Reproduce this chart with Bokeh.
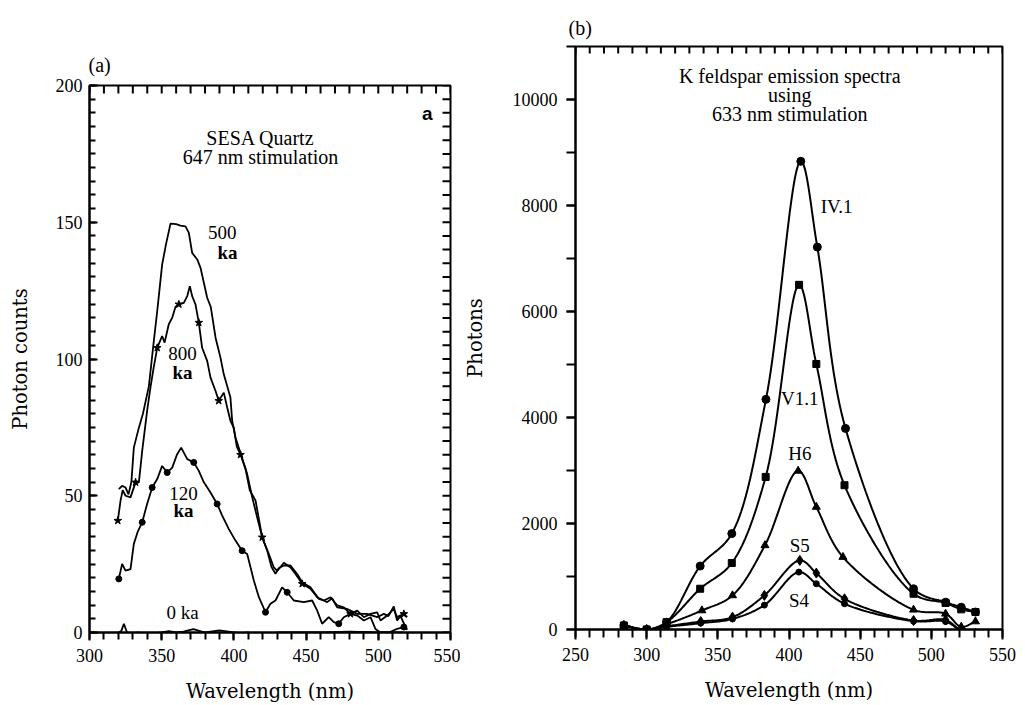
import numpy as np
from bokeh.plotting import figure
from bokeh.layouts import row, column
from bokeh.models import SingleIntervalTicker, ColumnDataSource
from bokeh.core.properties import value
from bokeh.embed import file_html
from bokeh.resources import INLINE

# ---------------- Panel (a) data : SESA Quartz, 647 nm stimulation ----------------
a500_x = [320.3, 322.6, 325, 327, 329, 330.7, 334.2, 337, 341.1, 344, 347, 350.3, 353, 356.1, 360, 363,
          366.5, 368.8, 371.1, 374.6, 376.9, 381.5, 384, 387.3, 390.7, 393, 397.6, 398.8, 401.1, 404.6,
          409.2, 412.7, 416.1, 419.6, 423.1, 426, 428.8, 431, 434.6, 439.2, 443.8, 447.3, 453, 458.8,
          462.3, 464.6, 468, 471.5, 478.5, 485.4, 492.3, 499.2, 503.8, 507, 510.7, 513, 515.4, 518, 520]
a500_y = [52.4, 53.6, 53, 50.5, 55, 67.6, 74.9, 80, 90, 104, 118, 134.5, 142, 149.5, 149.3, 148.8,
          148.5, 146.1, 138.8, 136.4, 133.3, 122.4, 119, 107.8, 100.5, 94.4, 85.9, 77.4, 71.3, 65.5,
          57.9, 49.4, 42.1, 34.8, 29.9, 24, 21.5, 23.5, 24.5, 24.5, 21.4, 18.4, 16.5, 12.3,
          11.7, 11.1, 12.5, 9.2, 8.6, 6.8, 6.8, 5.6, 6.8, 6, 9.5, 4.4, 6, 3, 1]

a800_x = [319.6, 321.5, 323, 325, 328.4, 331.9, 334.2, 336.5, 339.9, 342.2, 344.5, 346.9, 350.3, 352,
          354.9, 357.3, 359.5, 361.9, 365.3, 367.7, 369.5, 371.1, 373.4, 375.7, 378, 381.5, 383.8,
          387.3, 389.5, 393, 395.4, 397.6, 399.9, 402, 404.6, 408, 411, 415, 419.6, 424.2, 427.6, 430,
          434.6, 439.2, 442.7, 447.3, 453, 457.7, 462.3, 466.9, 471.5, 476.1, 480.7, 485.4, 490, 494.6,
          499.2, 501.5, 506.2, 510.7, 513, 517.7, 520]
a800_y = [40.9, 48.2, 52, 50, 49.4, 54.9, 54.9, 66.4, 81, 89.5, 97, 104.1, 108.4, 106,
          112.7, 115.1, 119, 120, 120.5, 123, 126.6, 123, 120, 113.3, 104.1, 99.3, 93.2,
          88.3, 84.7, 87.7, 82.2, 77.4, 74.9, 68, 65, 60, 52, 48.2, 34.8, 28.7, 23.8, 22.5,
          25.5, 23.8, 21.4, 17.8, 16, 12.9, 11.7, 12.9, 9.9, 9.2, 6.8, 8, 5.6, 6.8,
          7.4, 4.4, 6.2, 8.6, 5.6, 6.8, 5.6]
a800_mx = [319.6, 331.9, 346.9, 361.9, 375.7, 389.5, 404.6, 419.6, 447.3, 480.7, 517.7]
a800_my = [40.9, 54.9, 104.1, 120, 113.3, 84.7, 65, 34.8, 17.8, 6.8, 6.8]

a120_x = [320.3, 322.6, 324.9, 328.4, 330.7, 333.5, 336.5, 339.9, 343.4, 346.9, 350.3, 353.8, 357.3,
          360.7, 363.5, 367.7, 372.2, 375.7, 379.2, 383.8, 388.4, 391.9, 396.5, 401.1, 405.7, 409.2,
          413.8, 417.3, 421.9, 425.3, 428.8, 433.4, 436.9, 441.5, 448.4, 454.2, 457.7, 461.1, 465.7,
          469.2, 472.6, 476.1, 480.7, 485.4, 490, 494.6, 498, 501.5, 507.3, 513, 517.7]
a120_y = [19.6, 25.1, 22.6, 23.2, 32.4, 37, 40.3, 47, 53, 56.1, 60.9, 58.5, 60.3,
          65.2, 67.6, 63.4, 62.2, 59.1, 54.9, 51.2, 47, 42.7, 37.8, 33.6, 29.9, 28.7,
          19, 12.9, 7.4, 10.5, 11.7, 16.5, 14.7, 11.7, 11.1, 11.7, 8, 3.2, 5.6,
          3.8, 3.2, 5.6, 6.8, 6.2, 4.4, 5.6, 1.3, 0, 0, 1.3, 2]
a120_mx = [320.3, 336.5, 343.4, 353.8, 372.2, 388.4, 405.7, 421.9, 436.9, 472.6, 517.7]
a120_my = [19.6, 40.3, 53, 58.5, 62.2, 47, 29.9, 7.4, 14.7, 3.2, 2]

a0_x = [320, 322, 323.8, 326, 329.5, 333, 340, 350, 355, 360, 365, 372, 380, 390, 400, 405, 410,
        415, 421.9, 426, 430, 440, 460, 480, 500, 517]
a0_y = [0, 0.5, 3.2, 0, -2.3, 0, -0.5, 0, 0.5, 0, 0.3, 1.2, 0, 0.8, 0, -0.3, 0,
        -1.5, -3.5, -2, 0, 0, 0, 0.3, 0, 0]

a_labels = ["500", "ka", "800", "ka", "120", "ka", "0 ka"]
a_label_x = [392, 395.6, 364.4, 364.4, 365.1, 365.1, 364.4]
a_label_y = [146.4, 139, 102, 95, 51, 44.5, 7.3]
a_label_bold = [False, True, False, True, False, True, False]
a_title = ["SESA Quartz", "647 nm stimulation"]
a_title_x = [418.4, 418.4]
a_title_y = [180.7, 174.0]

# ---------------- Panel (b) data : K feldspar emission spectra ----------------
b_iv1_x = [284, 300, 314, 337.6, 359.8, 383.8, 408.3, 419.9, 439.7, 487.5, 510.1, 521, 531]
b_iv1_y = [76, 0, 138, 1197, 1809, 4342, 8834, 7215, 3794, 769, 516, 420, 330]
b_v11_x = [284, 300, 314, 337.6, 359.8, 383.6, 407.1, 419.2, 439, 487.5, 510, 521, 531]
b_v11_y = [76, 0, 138, 769, 1254, 2879, 6503, 5009, 2722, 674, 500, 380, 330]
b_h6_x = [284, 300, 314, 338.8, 360.3, 383.1, 406.4, 419.2, 437.9, 487.5, 510, 521, 531]
b_h6_y = [76, 0, 100, 359, 643, 1588, 2993, 2312, 1367, 372, 296, 50, 151]
b_s5_x = [284, 300, 314, 338, 360.3, 382.7, 407.6, 419.2, 439, 487.5, 510, 521, 531]
b_s5_y = [76, 0, 60, 150, 233, 643, 1304, 1064, 580, 170, 180, -20, -70]
b_s4_x = [284, 300, 314, 338, 360.3, 382.7, 406.9, 419.2, 439, 487.5, 510, 521, 531]
b_s4_y = [76, 0, 50, 120, 200, 460, 1083, 864, 486, 157, 150, -20, -80]

b_labels = ["IV.1", "V1.1", "H6", "S5", "S4"]
b_label_x = [433.5, 407.6, 407.6, 407.6, 407.0]
b_label_y = [7977, 4362, 3323, 1588, 548]
b_title = ["K feldspar emission spectra", "using", "633 nm stimulation"]
b_title_x = [400.5, 400.5, 400.5]
b_title_y = [10450, 10090, 9730]

SERIF = "Liberation Serif"
LABEL_FONT = "DejaVu Serif"
TICKC = "black"


def catmull_rom(xs, ys, sx, sy, n=24):
    P = np.column_stack([np.asarray(xs, float) * sx, np.asarray(ys, float) * sy])
    P = np.vstack([2 * P[0] - P[1], P, 2 * P[-1] - P[-2]])
    out = []
    for i in range(1, len(P) - 2):
        p0, p1, p2, p3 = P[i - 1], P[i], P[i + 1], P[i + 2]
        t0 = 0.0
        t1 = t0 + max(np.linalg.norm(p1 - p0) ** 0.5, 1e-6)
        t2 = t1 + max(np.linalg.norm(p2 - p1) ** 0.5, 1e-6)
        t3 = t2 + max(np.linalg.norm(p3 - p2) ** 0.5, 1e-6)
        t = np.linspace(t1, t2, n)[:, None]
        A1 = (t1 - t) / (t1 - t0) * p0 + (t - t0) / (t1 - t0) * p1
        A2 = (t2 - t) / (t2 - t1) * p1 + (t - t1) / (t2 - t1) * p2
        A3 = (t3 - t) / (t3 - t2) * p2 + (t - t2) / (t3 - t2) * p3
        B1 = (t2 - t) / (t2 - t0) * A1 + (t - t0) / (t2 - t0) * A2
        B2 = (t3 - t) / (t3 - t1) * A2 + (t - t1) / (t3 - t1) * A3
        C = (t2 - t) / (t2 - t1) * B1 + (t - t1) / (t2 - t1) * B2
        out.append(C if i == 1 else C[1:])
    C = np.vstack(out)
    return C[:, 0] / sx, C[:, 1] / sy


def style_axis(ax, tin, tout, mtin, mtout, standoff=6):
    ax.axis_line_width = 2
    ax.axis_line_color = "black"
    ax.major_tick_in = tin
    ax.major_tick_out = tout
    ax.minor_tick_in = mtin
    ax.minor_tick_out = mtout
    ax.major_tick_line_width = 2
    ax.minor_tick_line_width = 2
    ax.major_tick_line_color = TICKC
    ax.minor_tick_line_color = TICKC
    ax.major_label_text_font = SERIF
    ax.major_label_text_font_size = "18px"
    ax.major_label_text_color = "black"
    ax.major_label_standoff = standoff
    ax.axis_label_text_font = LABEL_FONT
    ax.axis_label_text_font_style = "normal"
    ax.axis_label_text_font_size = "19.5px"
    ax.axis_label_text_color = "black"


def style_title(t, text, offset, standoff):
    t.text = text
    t.align = "left"
    t.offset = offset
    t.standoff = standoff
    t.text_font = SERIF
    t.text_font_size = "20px"
    t.text_font_style = "normal"
    t.text_color = "black"


# ---------------- Figure (a) ----------------
XA, YA = (300, 550), (0, 200)
pa = figure(width=460, height=705, x_range=XA, y_range=YA,
            output_backend="svg", toolbar_location=None,
            min_border_left=89, min_border_right=10, min_border_top=85, min_border_bottom=73)
pa.grid.visible = False
pa.outline_line_color = "black"
pa.outline_line_width = 2
style_title(pa.title, "(a)", -1, 20)

pa.xaxis[0].ticker = SingleIntervalTicker(interval=50, num_minor_ticks=5)
pa.yaxis[0].ticker = SingleIntervalTicker(interval=50, num_minor_ticks=10)
style_axis(pa.xaxis[0], 0, 8, 0, 7, standoff=8)
style_axis(pa.yaxis[0], 8, 0, 6, 0, standoff=7)
pa.xaxis[0].axis_label = "Wavelength (nm)"
pa.xaxis[0].axis_label_standoff = 15
pa.yaxis[0].axis_label = "Photon counts"
pa.yaxis[0].axis_label_standoff = 21

# inward ticks on the top and right edges of frame (a)
ta_x = np.arange(XA[0], XA[1] + 1, 10).astype(float)
pa.segment(x0=ta_x, y0=np.full(len(ta_x), YA[1], dtype=float), x1=ta_x,
           y1=np.full(len(ta_x), YA[1] - 8 / 2.74), line_color=TICKC, line_width=2)
ra_y = np.arange(YA[0], YA[1] + 1, 5).astype(float)
pa.segment(x0=np.full(len(ra_y), XA[1], dtype=float), y0=ra_y,
           x1=np.full(len(ra_y), XA[1] - 8 / 1.444), y1=ra_y, line_color=TICKC, line_width=2)

pa.line(a500_x, a500_y, line_color="black", line_width=1.8)
pa.line(a800_x, a800_y, line_color="black", line_width=1.8)
pa.scatter(a800_mx, a800_my, marker="star", size=8, color="black")
pa.line(a120_x, a120_y, line_color="black", line_width=1.8)
pa.scatter(a120_mx, a120_my, marker="circle", size=6, color="black")
pa.line(a0_x, a0_y, line_color="black", line_width=1.8)

idx_n = [i for i in range(len(a_labels)) if not a_label_bold[i]]
idx_b = [i for i in range(len(a_labels)) if a_label_bold[i]]
src_al = ColumnDataSource(dict(x=[a_label_x[i] for i in idx_n], y=[a_label_y[i] for i in idx_n],
                               t=[a_labels[i] for i in idx_n]))
src_alb = ColumnDataSource(dict(x=[a_label_x[i] for i in idx_b], y=[a_label_y[i] for i in idx_b],
                                t=[a_labels[i] for i in idx_b]))
pa.text(x="x", y="y", text="t", source=src_al, text_font=value(SERIF), text_font_size="19px",
        text_align="center", text_baseline="middle", text_color="black")
pa.text(x="x", y="y", text="t", source=src_alb, text_font=value(SERIF), text_font_size="19px",
        text_font_style="bold", text_align="center", text_baseline="middle", text_color="black")
pa.text(x=a_title_x, y=a_title_y, text=a_title, text_font=value(SERIF), text_font_size="20px",
        text_align="center", text_baseline="middle", text_color="black")
pa.text(x=[534], y=[189.8], text=["a"], text_font=value("Liberation Sans"), text_font_size="19px",
        text_font_style="bold", text_align="center", text_baseline="middle", text_color="black")

# ---------------- Figure (b) ----------------
XB, YB = (250, 550), (0, 11000)
pb = figure(width=565, height=705, x_range=XB, y_range=YB,
            output_backend="svg", toolbar_location=None,
            min_border_left=113, min_border_right=23, min_border_top=46, min_border_bottom=76)
pb.grid.visible = False
pb.outline_line_color = "black"
pb.outline_line_width = 2
style_title(pb.title, "(b)", -7, 16)

pb.xaxis[0].ticker = SingleIntervalTicker(interval=50, num_minor_ticks=5)
pb.yaxis[0].ticker = SingleIntervalTicker(interval=2000, num_minor_ticks=2)
style_axis(pb.xaxis[0], 0, 10, 0, 8, standoff=8)
style_axis(pb.yaxis[0], 0, 9, 0, 9, standoff=9)
pb.xaxis[0].axis_label = "Wavelength (nm)"
pb.xaxis[0].axis_label_standoff = 15
pb.yaxis[0].axis_label = "Photons"
pb.yaxis[0].axis_label_standoff = 23

tb_x = np.arange(XB[0], XB[1] + 1, 10).astype(float)
pb.segment(x0=tb_x, y0=np.full(len(tb_x), YB[1], dtype=float), x1=tb_x,
           y1=np.full(len(tb_x), YB[1] - 7 / 0.0529), line_color=TICKC, line_width=2)

SX, SY = 1.43, 0.0529
series_b = [(b_iv1_x, b_iv1_y, "circle", 8), (b_v11_x, b_v11_y, "square", 7),
            (b_h6_x, b_h6_y, "triangle", 8), (b_s5_x, b_s5_y, "diamond", 10),
            (b_s4_x, b_s4_y, "circle", 6)]
for xs, ys, mk, sz in series_b:
    cx, cy = catmull_rom(xs, ys, SX, SY)
    pb.line(cx, cy, line_color="black", line_width=2)
    pb.scatter(xs, ys, marker=mk, size=sz, color="black")

pb.text(x=b_label_x, y=b_label_y, text=b_labels, text_font=value(SERIF), text_font_size="19px",
        text_align="center", text_baseline="middle", text_color="black")
pb.text(x=b_title_x, y=b_title_y, text=b_title, text_font=value(SERIF), text_font_size="20px",
        text_align="center", text_baseline="middle", text_color="black")

layout = row(column(pa), column(pb), spacing=0)
open("out.html", "w").write(file_html(layout, INLINE))
